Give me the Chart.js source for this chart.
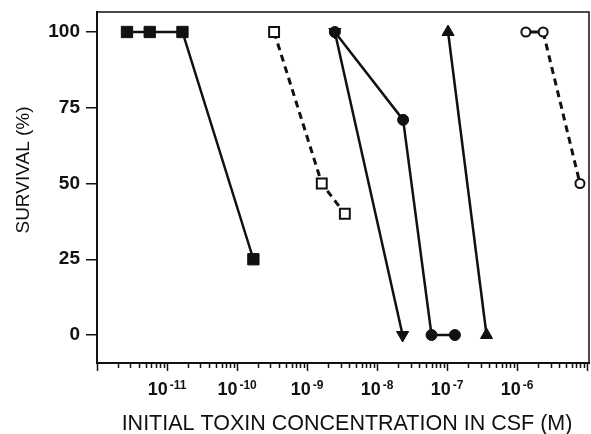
<!DOCTYPE html>
<html lang="en">
<head>
<meta charset="UTF-8" />
<title>Survival vs initial toxin concentration</title>
<script src="https://cdn.jsdelivr.net/npm/chart.js"></script>
<style>
  html, body { margin: 0; padding: 0; background: #fff; }
  #wrap { width: 591px; height: 434px; }
</style>
</head>
<body>
<div id="wrap"><canvas id="myChart"></canvas></div>
<script>
// concentration (M) and survival (%) for each series
const filledSquareConc = [2.68e-12, 5.66e-12, 1.66e-11, 1.71e-10];
const filledSquareSurv = [100, 100, 100, 25];
const openSquareConc = [3.38e-10, 1.62e-9, 3.46e-9];
const openSquareSurv = [100, 50, 40];
const downTriConc = [2.49e-9, 2.31e-8];
const downTriSurv = [100, 0];
const filledCircleConc = [2.49e-9, 2.35e-8, 5.98e-8, 1.29e-7];
const filledCircleSurv = [100, 71, 0, 0];
const upTriConc = [1.03e-7, 3.65e-7];
const upTriSurv = [100, 0];
const openCircleConc = [1.33e-6, 2.35e-6, 7.87e-6];
const openCircleSurv = [100, 100, 50];

// axis ticks
const yTicks = [0, 25, 50, 75, 100];
const xDecades = [-12, -11, -10, -9, -8, -7, -6, -5];
const xLabelDecades = [-11, -10, -9, -8, -7, -6];
const xMin = 1e-12, xMax = 1.06e-5;

const INK = "#111";
const FONT = "'Liberation Sans', Arial, Helvetica, sans-serif";

function pts(xs, ys) {
  return xs.map((x, i) => ({ x: x, y: ys[i] }));
}

function series(xs, ys, style, opts) {
  return Object.assign({
    data: pts(xs, ys),
    borderColor: INK,
    borderWidth: 2.5,
    pointStyle: style,
    pointBackgroundColor: INK,
    pointBorderColor: INK,
    pointBorderWidth: 1,
    pointRadius: 6,
    tension: 0,
    fill: false,
  }, opts);
}

const datasets = [
  series(filledSquareConc, filledSquareSurv, "rect", { pointRadius: 8 }),
  series(openSquareConc, openSquareSurv, "rect", {
    pointRadius: 7, pointBackgroundColor: "#fff", pointBorderWidth: 2, borderDash: [7, 5], borderWidth: 3,
  }),
  series(downTriConc, downTriSurv, "triangle", { pointRadius: 7, pointRotation: 180 }),
  series(filledCircleConc, filledCircleSurv, "circle", { pointRadius: 5.5 }),
  series(upTriConc, upTriSurv, "triangle", { pointRadius: 7 }),
  series(openCircleConc, openCircleSurv, "circle", {
    pointRadius: 4.5, pointBackgroundColor: "#fff", pointBorderWidth: 2, borderWidth: 3,
    // short first link is solid, the drop is dashed
    segment: { borderDash: (c) => (c.p0DataIndex === 0 ? [] : [7, 5]) },
  }),
];

// frame, x ticks (long at decades), x decade labels with superscripts, axis titles
const decor = {
  id: "decor",
  afterDraw(chart) {
    const ctx = chart.ctx;
    const a = chart.chartArea;
    const xs = chart.scales.x;
    ctx.save();
    ctx.strokeStyle = INK;
    ctx.lineWidth = 1.5;
    ctx.beginPath();
    ctx.moveTo(a.left, a.top);
    ctx.lineTo(a.right, a.top);
    ctx.lineTo(a.right, a.bottom);
    ctx.stroke();

    xs.ticks.forEach((t) => {
      const px = Math.round(xs.getPixelForValue(t.value)) + 0.5;
      ctx.beginPath();
      ctx.moveTo(px, a.bottom);
      ctx.lineTo(px, a.bottom + (t.major ? 8 : 5));
      ctx.stroke();
    });

    ctx.fillStyle = INK;
    ctx.textBaseline = "alphabetic";
    ctx.textAlign = "left";
    xLabelDecades.forEach((d) => {
      const px = xs.getPixelForValue(Math.pow(10, d));
      ctx.font = "bold 18px " + FONT;
      const wb = ctx.measureText("10").width;
      ctx.font = "bold 12px " + FONT;
      const exp = String(d);
      const we = ctx.measureText(exp).width;
      const x0 = px - (wb + we + 2) / 2;
      ctx.font = "bold 18px " + FONT;
      ctx.fillText("10", x0, a.bottom + 32);
      ctx.font = "bold 12px " + FONT;
      ctx.fillText(exp, x0 + wb + 2, a.bottom + 26);
    });

    ctx.font = "21.5px " + FONT;
    ctx.textAlign = "center";
    ctx.fillText("INITIAL TOXIN CONCENTRATION IN CSF (M)", (a.left + a.right) / 2 + 4, 430);

    ctx.save();
    ctx.translate(29, 170);
    ctx.rotate(-Math.PI / 2);
    ctx.font = "19px " + FONT;
    ctx.fillText("SURVIVAL (%)", 0, 0);
    ctx.restore();
    ctx.restore();
  },
};

new Chart(document.getElementById("myChart"), {
  type: "line",
  data: { datasets: datasets },
  options: {
    responsive: true,
    maintainAspectRatio: false,
    animation: false,
    layout: { autoPadding: false, padding: { top: 12, right: 2, left: 0, bottom: 0 } },
    plugins: { legend: { display: false }, tooltip: { enabled: false } },
    scales: {
      x: {
        type: "logarithmic",
        min: xMin,
        max: xMax,
        afterBuildTicks(scale) {
          const list = [];
          xDecades.forEach((d) => {
            for (let m = 1; m <= 9; m++) {
              const v = m * Math.pow(10, d);
              if (v >= xMin && v <= xMax) list.push({ value: v, major: m === 1 });
            }
          });
          scale.ticks = list;
        },
        afterFit(scale) { scale.height = 71; },
        grid: { display: false },
        border: { display: true, color: INK, width: 2 },
        ticks: { display: false, autoSkip: false },
      },
      y: {
        min: -9.24,
        max: 106.6,
        afterBuildTicks(scale) {
          scale.ticks = yTicks.map((v) => ({ value: v }));
        },
        afterFit(scale) {
          scale.width = 97;
          scale.paddingTop = 0;
          scale.paddingBottom = 0;
        },
        grid: { drawOnChartArea: false, tickLength: 11, color: INK, lineWidth: 1.5 },
        border: { display: true, color: INK, width: 2 },
        ticks: {
          color: INK,
          padding: 6,
          font: { family: FONT, size: 19, weight: "bold" },
        },
      },
    },
  },
  plugins: [decor],
});
</script>
</body>
</html>
